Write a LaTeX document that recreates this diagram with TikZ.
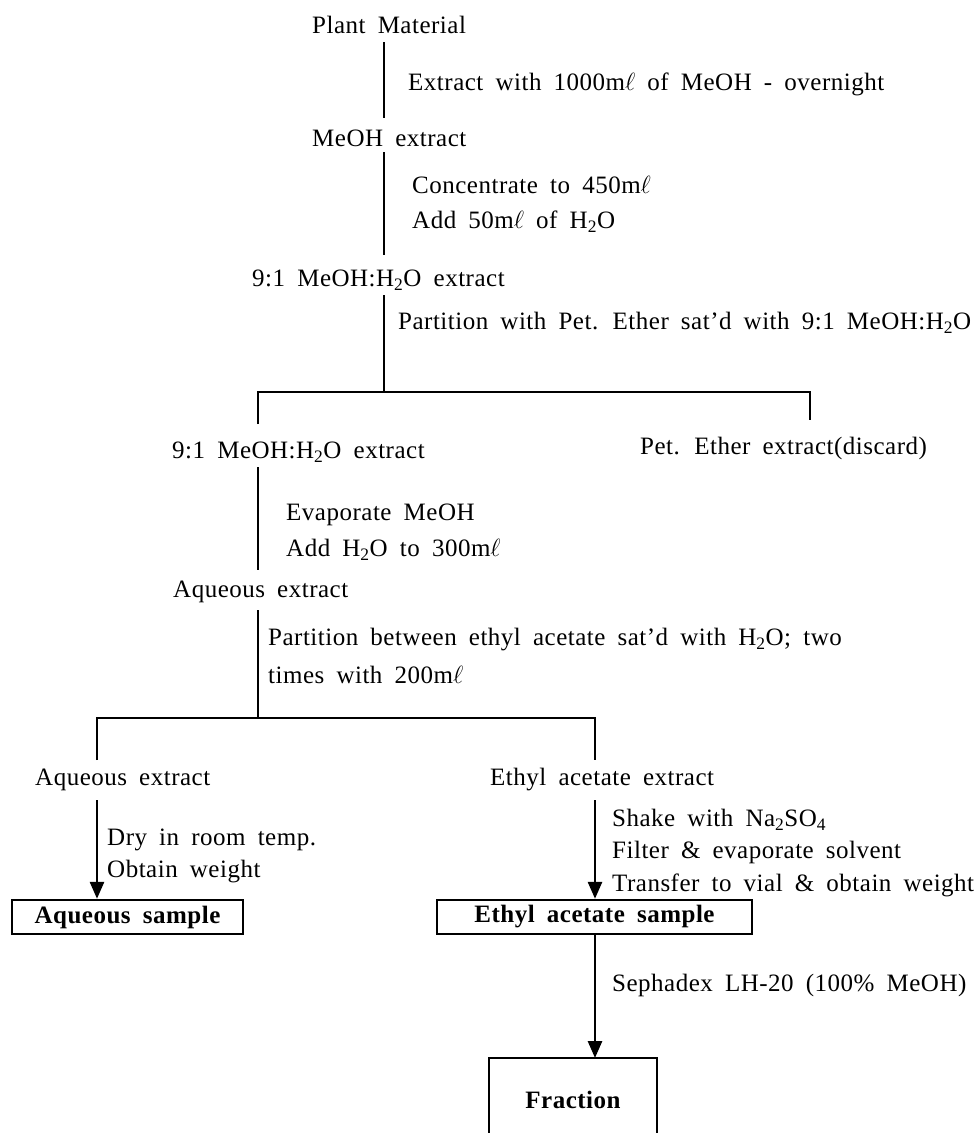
\documentclass[tikz,border=0pt]{standalone}
\usepackage{fontspec}
\setmainfont{Liberation Serif}[WordSpace=1.8,LetterSpace=2]
\usetikzlibrary{arrows.meta}
\newcommand{\sub}[1]{\textsubscript{#1}}
\newcommand{\mlit}{m$\ell$}
\begin{document}
\begin{tikzpicture}[x=1pt,y=-1pt,
  lbl/.style={anchor=west, inner sep=0pt, font=\fontsize{25}{29}\selectfont},
  boxn/.style={draw, line width=2.4pt, inner sep=0pt, minimum height=34pt, font=\fontsize{25}{29}\selectfont\bfseries},
  ln/.style={line width=2.8pt},
  arr/.style={line width=2.8pt, -{Triangle[length=17pt,width=14pt]}}]
\useasboundingbox (0,0) rectangle (974,1133);

% texts
\node[lbl] (pm)  at (312,25)  {Plant Material};
\node[lbl] (t1)  at (408,84)  {Extract with 1000\mlit{} of MeOH - overnight};
\node[lbl] (me)  at (312,138) {MeOH extract};
\node[lbl] (t2a) at (412,185) {Concentrate to 450\mlit};
\node[lbl] (t2b) at (412,222) {Add 50\mlit{} of H\sub{2}O};
\node[lbl] (mw1) at (252,280) {9:1 MeOH:H\sub{2}O extract};
\node[lbl] (t3)  at (398,323) {Partition with Pet. Ether sat'd with 9:1 MeOH:H\sub{2}O};
\node[lbl] (mw2) at (172,452) {9:1 MeOH:H\sub{2}O extract};
\node[lbl] (pe)  at (640,448) {Pet. Ether extract(discard)};
\node[lbl] (t4a) at (286,515) {Evaporate MeOH};
\node[lbl] (t4b) at (286,550) {Add H\sub{2}O to 300\mlit};
\node[lbl] (aq1) at (173,592) {Aqueous extract};
\node[lbl] (t5a) at (268,640) {Partition between ethyl acetate sat'd with H\sub{2}O; two};
\node[lbl] (t5b) at (268,675) {times with 200\mlit};
\node[lbl] (aq2) at (35,780)  {Aqueous extract};
\node[lbl] (ea)  at (490,780) {Ethyl acetate extract};
\node[lbl] (t6a) at (107,840) {Dry in room temp.};
\node[lbl] (t6b) at (107,872) {Obtain weight};
\node[lbl] (t7a) at (612,820) {Shake with Na\sub{2}SO\sub{4}};
\node[lbl] (t7b) at (612,852) {Filter \& evaporate solvent};
\node[lbl] (t7c) at (612,885) {Transfer to vial \& obtain weight};
\node[lbl] (t8)  at (612,985) {Sephadex LH-20 (100\% MeOH)};

% boxes
\node[boxn, minimum width=231pt] (aqs) at (127.5,917) {Aqueous sample};
\node[boxn, minimum width=315pt] (eas) at (594.5,917) {Ethyl acetate sample};
\node[font=\fontsize{25}{29}\selectfont\bfseries, inner sep=0pt] (fr) at (573,1100) {Fraction};
\coordinate (frtl) at (489,1058);
\coordinate (frtr) at (657,1058);
\coordinate (frbl) at (489,1150);
\coordinate (frbr) at (657,1150);
\draw[line width=2.4pt] (frbl) -- (frtl) -- (frtr) -- (frbr);

% connector points
\coordinate (a1) at (384,42);  \coordinate (a2) at (384,118);
\coordinate (b1) at (384,152); \coordinate (b2) at (384,255);
\coordinate (c1) at (384,295); \coordinate (c2) at (384,392);
\coordinate (bl) at (258,392); \coordinate (br) at (810,392);
\coordinate (bld) at (258,424); \coordinate (brd) at (810,420);
\coordinate (d1) at (258,467); \coordinate (d2) at (258,570);
\coordinate (e1) at (258,610); \coordinate (e2) at (258,718);
\coordinate (fl) at (97,718);  \coordinate (fr2) at (595,718);
\coordinate (fld) at (97,760); \coordinate (frd) at (595,760);
\coordinate (g1) at (97,800);  \coordinate (h1) at (595,800);

\draw[ln] (a1) -- (a2);
\draw[ln] (b1) -- (b2);
\draw[ln] (c1) -- (c2);
\draw[ln] (bld) -- (bl) -- (br) -- (brd);
\draw[ln] (d1) -- (d2);
\draw[ln] (e1) -- (e2);
\draw[ln] (fld) -- (fl) -- (fr2) -- (frd);
\draw[arr] (g1) -- (g1 |- aqs.north);
\draw[arr] (h1) -- (h1 |- eas.north);
\draw[arr] (h1 |- eas.south) -- (h1 |- frtl);
\end{tikzpicture}
\end{document}
